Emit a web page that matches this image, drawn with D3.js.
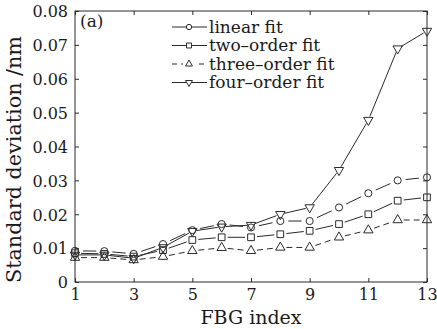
<!DOCTYPE html>
<html>
<head>
<meta charset="utf-8">
<script src="https://cdn.jsdelivr.net/npm/d3@7"></script>
<style>
  body { margin: 0; background: #fff; }
  text { font-family: "DejaVu Serif", serif; fill: #1a1a1a; }
</style>
</head>
<body>
<div id="chart"></div>
<script>
// data
var fbgIndex = [1, 2, 3, 4, 5, 6, 7, 8, 9, 10, 11, 12, 13];
var linearFit = [0.0092, 0.0091, 0.0083, 0.0112, 0.0153, 0.0171, 0.0161, 0.0180, 0.0180, 0.0220, 0.0262, 0.0300, 0.0309];
var twoOrderFit = [0.0085, 0.0083, 0.0075, 0.0094, 0.0124, 0.0132, 0.0132, 0.0141, 0.0151, 0.0171, 0.0200, 0.0240, 0.0250];
var threeOrderFit = [0.0072, 0.0072, 0.0065, 0.0075, 0.0092, 0.0101, 0.0092, 0.0102, 0.0102, 0.0132, 0.0153, 0.0183, 0.0183];
var fourOrderFit = [0.0080, 0.0080, 0.0070, 0.0102, 0.0150, 0.0163, 0.0168, 0.0200, 0.0220, 0.0330, 0.0478, 0.0689, 0.0741];
var seriesNames = ["linear fit", "two\u2013order fit", "three\u2013order fit", "four\u2013order fit"];
var xTicks = [1, 3, 5, 7, 9, 11, 13];
var yTicks = [0, 0.01, 0.02, 0.03, 0.04, 0.05, 0.06, 0.07, 0.08];

var width = 437, height = 329;
var margin = {top: 11, right: 10, bottom: 47, left: 75};
var w = width - margin.left - margin.right,
    h = height - margin.top - margin.bottom;

var svg = d3.select("#chart").append("svg")
  .attr("width", width).attr("height", height);
var g = svg.append("g")
  .attr("transform", "translate(" + margin.left + "," + margin.top + ")");

var x = d3.scaleLinear().domain([1, 13]).range([0, w]);
var y = d3.scaleLinear().domain([0, 0.08]).range([h, 0]);

var col = "#2a2a2a";

// frame
g.append("rect").attr("width", w).attr("height", h)
  .attr("fill", "none").attr("stroke", col).attr("stroke-width", 1);

// axes with inward ticks
var fmt = function(d) { return d === 0 ? "0" : d3.format(".2f")(d); };
var xAxis = g.append("g").attr("transform", "translate(0," + h + ")")
  .call(d3.axisBottom(x).tickValues(xTicks).tickSizeInner(-4).tickSizeOuter(0).tickPadding(7));
var xTop = g.append("g")
  .call(d3.axisTop(x).tickValues(xTicks).tickSizeInner(-4).tickSizeOuter(0).tickFormat(""));
var yAxis = g.append("g")
  .call(d3.axisLeft(y).tickValues(yTicks).tickFormat(fmt).tickSizeInner(-4).tickSizeOuter(0).tickPadding(7));
var yRight = g.append("g").attr("transform", "translate(" + w + ",0)")
  .call(d3.axisRight(y).tickValues(yTicks).tickSizeInner(-4).tickSizeOuter(0).tickFormat(""));

[xAxis, xTop, yAxis, yRight].forEach(function(a) {
  a.select(".domain").remove();
  a.selectAll("line").attr("stroke", col);
  a.selectAll("text").attr("font-family", "DejaVu Serif").attr("font-size", 16).attr("fill", "#1a1a1a");
});
yAxis.selectAll("text").attr("dy", "0.36em");

// axis titles
svg.append("text")
  .attr("x", margin.left + w / 2).attr("y", 324)
  .attr("text-anchor", "middle").attr("font-size", 19)
  .text("FBG index");
svg.append("text")
  .attr("transform", "translate(21," + (margin.top + h / 2 + 13) + ") rotate(-90)")
  .attr("text-anchor", "middle").attr("font-size", 19.5)
  .attr("textLength", 247).attr("lengthAdjust", "spacingAndGlyphs")
  .text("Standard deviation /nm");

g.append("text").attr("x", 5).attr("y", 16).attr("font-size", 17).text("(a)");

// series
var series = [
  {name: seriesNames[0], values: linearFit, symbol: d3.symbolCircle, size: 40, rot: 0, dash: null, gap: 8},
  {name: seriesNames[1], values: twoOrderFit, symbol: d3.symbolSquare, size: 45, rot: 0, dash: null, gap: 6},
  {name: seriesNames[2], values: threeOrderFit, symbol: d3.symbolTriangle, size: 38, rot: 0, dash: "6,4", gap: 6},
  {name: seriesNames[3], values: fourOrderFit, symbol: d3.symbolTriangle, size: 38, rot: 180, dash: null, gap: 4}
];

series.forEach(function(s) {
  var pts = s.values.map(function(v, i) { return [x(fbgIndex[i]), y(v)]; });
  var segs = [];
  for (var i = 0; i < pts.length - 1; i++) {
    var a = pts[i], b = pts[i + 1];
    var dx = b[0] - a[0], dy = b[1] - a[1], len = Math.sqrt(dx * dx + dy * dy);
    if (len <= 2 * s.gap) continue;
    var ux = dx / len, uy = dy / len;
    segs.push([a[0] + ux * s.gap, a[1] + uy * s.gap, b[0] - ux * s.gap, b[1] - uy * s.gap]);
  }
  g.append("g").selectAll("line").data(segs).enter().append("line")
    .attr("x1", function(d) { return d[0]; }).attr("y1", function(d) { return d[1]; })
    .attr("x2", function(d) { return d[2]; }).attr("y2", function(d) { return d[3]; })
    .attr("stroke", col).attr("stroke-width", 1)
    .attr("stroke-dasharray", s.dash);
});

series.forEach(function(s) {
  g.append("g").selectAll("path").data(s.values).enter().append("path")
    .attr("d", d3.symbol().type(s.symbol).size(s.size))
    .attr("transform", function(d, i) {
      return "translate(" + x(fbgIndex[i]) + "," + y(d) + ") rotate(" + s.rot + ")";
    })
    .attr("fill", "none").attr("stroke", col).attr("stroke-width", 1);
});

// legend
var legend = g.append("g").attr("transform", "translate(" + (172 - margin.left) + "," + (27 - margin.top) + ")");
series.forEach(function(s, i) {
  var row = legend.append("g").attr("transform", "translate(0," + (i * 18.5) + ")");
  row.append("line").attr("x1", 0).attr("x2", 35).attr("y1", 0).attr("y2", 0)
    .attr("stroke", col).attr("stroke-dasharray", s.dash ? "5,4" : null);
  if (s.dash) {
    row.append("rect").attr("x", 11).attr("y", -4).attr("width", 13).attr("height", 8).attr("fill", "#fff");
  }
  row.append("path")
    .attr("d", d3.symbol().type(s.symbol).size(s.size * 0.55))
    .attr("transform", "translate(17,0) rotate(" + s.rot + ")")
    .attr("fill", "#fff").attr("stroke", col);
  row.append("text").attr("x", 37).attr("y", 0).attr("dy", "0.33em")
    .attr("font-size", 17).text(s.name);
});
</script>
</body>
</html>
